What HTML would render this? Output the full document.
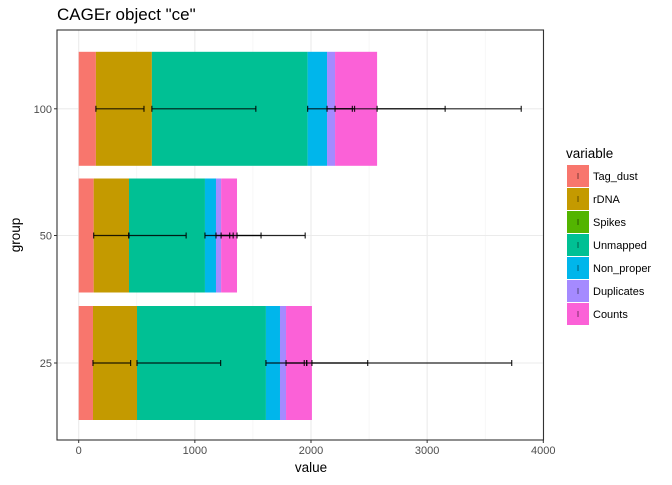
<!DOCTYPE html>
<html><head><meta charset="utf-8"><style>
body{margin:0;background:#fff;font-family:"Liberation Sans",sans-serif}
</style></head><body>
<svg width="672" height="480" xmlns="http://www.w3.org/2000/svg" id="svg" font-family="Liberation Sans, sans-serif">
<text x="57" y="20" font-size="17" fill="#000">CAGEr object "ce"</text>
<text x="311" y="472" font-size="13.5" text-anchor="middle">value</text>
<text transform="translate(20,235) rotate(-90)" font-size="13.5" text-anchor="middle">group</text>
<g id="plot"></g>
<g id="legend"></g>
</svg>
<script>
const groups=["100","50","25"];
const variables=["Tag_dust","rDNA","Spikes","Unmapped","Non_proper","Duplicates","Counts"];
const colors=["#F8766D","#C49A00","#53B400","#00C094","#00B6EB","#A58AFF","#FB61D7"];
const vals100=[148,482,0,1341,167,69,362];
const vals50=[129,304,0,654,95,44,137];
const vals25=[123,379,0,1110,121,52,223];
const err100=[[148,562],[630,1525],[1971,2356],[2138,2375],[2207,3155],[2569,3810]];
const err50=[[129,430],[433,925],[1087,1300],[1182,1330],[1226,1570],[1363,1950]];
const err25=[[123,447],[502,1222],[1612,1942],[1785,1963],[1963,2488],[2008,3728]];
const xTicks=[0,1000,2000,3000,4000];
const allVals=[vals100,vals50,vals25];
const allErr=[err100,err50,err25];
const NS="http://www.w3.org/2000/svg";
const L=57,R=543.5,T=30,B=440;
const x=v=>78.7+v*(543.3-78.7)/4000;
const yc=[108.8,235.5,363];
const bh=114;
const plot=document.getElementById('plot');
function mk(t,a,p){const e=document.createElementNS(NS,t);for(const k in a)e.setAttribute(k,a[k]);(p||plot).appendChild(e);return e;}
for(let v=500;v<4000;v+=1000){const g=mk('line',{x1:x(v),x2:x(v),y1:T,y2:B,stroke:'#f0f0f0','stroke-width':0.6});

}
xTicks.forEach(v=>{const g=mk('line',{x1:x(v),x2:x(v),y1:T,y2:B,stroke:'#ebebeb','stroke-width':1.1});

});
yc.forEach(y=>{const g=mk('line',{x1:L,x2:R,y1:y,y2:y,stroke:'#ebebeb','stroke-width':1.1});

});
allVals.forEach((vals,gi)=>{let c=0;vals.forEach((v,vi)=>{if(v>0){const r=mk('rect',{x:x(c),y:yc[gi]-bh/2,width:x(c+v)-x(c),height:bh,fill:colors[vi]});

}c+=v;});});
allErr.forEach((errs,gi)=>{const y=yc[gi];errs.forEach(e=>{const g=mk('g',{stroke:'#000','stroke-opacity':0.85,'stroke-width':1.2});


mk('line',{x1:x(e[0]),x2:x(e[1]),y1:y,y2:y},g);
mk('line',{x1:x(e[0]),x2:x(e[0]),y1:y-3,y2:y+3},g);
mk('line',{x1:x(e[1]),x2:x(e[1]),y1:y-3,y2:y+3},g);});});
const f=mk('rect',{x:L,y:T,width:R-L,height:B-T,fill:'none',stroke:'#333','stroke-width':1.1});


xTicks.forEach(v=>{mk('line',{x1:x(v),x2:x(v),y1:B,y2:B+3,stroke:'#333'});
const t=mk('text',{x:x(v),y:B+14,'font-size':11,fill:'#4d4d4d','text-anchor':'middle'});t.textContent=v;

});
groups.forEach((g,i)=>{mk('line',{x1:L-3,x2:L,y1:yc[i],y2:yc[i],stroke:'#333'});
const t=mk('text',{x:L-5,y:yc[i]+4,'font-size':11,fill:'#4d4d4d','text-anchor':'end'});t.textContent=g;

});
const lg=document.getElementById('legend');
const lt=mk('text',{x:566,y:158,'font-size':13.5},lg);lt.textContent='variable';


variables.forEach((v,i)=>{const y=165+i*23;const g=mk('g',{},lg);


mk('rect',{x:567,y:y,width:22,height:22,fill:colors[i]},g);
mk('line',{x1:578,x2:578,y1:y+8,y2:y+14,stroke:'#000','stroke-opacity':0.5},g);
const t=mk('text',{x:593,y:y+15,'font-size':11},g);t.textContent=v;});
</script>
</body></html>
